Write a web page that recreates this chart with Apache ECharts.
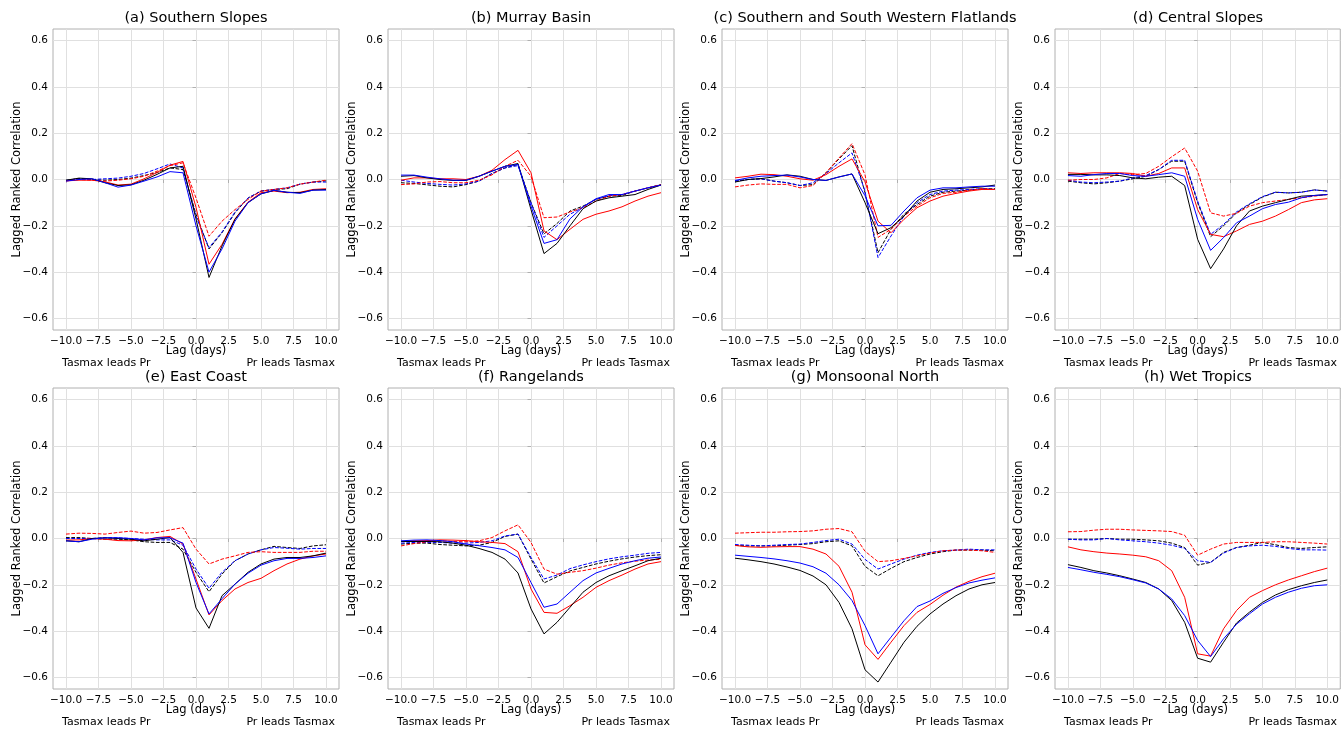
<!DOCTYPE html>
<html>
<head>
<meta charset="utf-8">
<script src="https://cdn.jsdelivr.net/npm/echarts@6/dist/echarts.min.js"></script>
<style>
html,body{margin:0;padding:0;background:#fff;}
#chart{width:1342px;height:730px;}
</style>
</head>
<body>
<div id="chart"></div>
<script>
// ---- data ----
const lags = [-10,-9,-8,-7,-6,-5,-4,-3,-2,-1,0,1,2,3,4,5,6,7,8,9,10];
const xTicks = [-10,-7.5,-5,-2.5,0,2.5,5,7.5,10];
const yTicks = [-0.6,-0.4,-0.2,0,0.2,0.4,0.6];
const titles = ['(a) Southern Slopes','(b) Murray Basin','(c) Southern and South Western Flatlands','(d) Central Slopes',
                '(e) East Coast','(f) Rangelands','(g) Monsoonal North','(h) Wet Tropics'];

// (a)
const aBlack     = [-0.003,0.006,0.003,-0.014,-0.026,-0.023,-0.003,0.022,0.050,0.057,-0.17,-0.423,-0.287,-0.172,-0.10,-0.062,-0.047,-0.055,-0.057,-0.046,-0.043];
const aBlackDash = [-0.004,0.004,0.0,-0.003,0.0,0.006,0.017,0.03,0.05,0.043,-0.15,-0.30,-0.23,-0.144,-0.08,-0.05,-0.043,-0.04,-0.02,-0.011,-0.006];
const aBlue      = [-0.007,0.0,0.003,-0.014,-0.033,-0.024,-0.007,0.011,0.034,0.029,-0.20,-0.40,-0.30,-0.18,-0.10,-0.062,-0.047,-0.055,-0.06,-0.046,-0.046];
const aBlueDash  = [-0.004,0.003,0.0,0.003,0.006,0.014,0.026,0.046,0.067,0.05,-0.16,-0.294,-0.227,-0.14,-0.08,-0.05,-0.043,-0.036,-0.02,-0.011,-0.011];
const aRed       = [-0.006,-0.003,-0.003,-0.01,-0.024,-0.02,0.003,0.03,0.062,0.078,-0.12,-0.366,-0.28,-0.17,-0.098,-0.057,-0.05,-0.057,-0.055,-0.043,-0.04];
const aRedDash   = [-0.006,0.0,-0.003,-0.007,-0.003,0.003,0.014,0.036,0.06,0.072,-0.08,-0.245,-0.18,-0.13,-0.086,-0.05,-0.043,-0.036,-0.02,-0.011,-0.003];
// (b)
const bBlack     = [0.014,0.017,0.007,0.0,-0.004,-0.004,0.014,0.036,0.057,0.069,-0.13,-0.32,-0.276,-0.20,-0.126,-0.093,-0.079,-0.072,-0.065,-0.043,-0.024];
const bBlackDash = [-0.014,-0.017,-0.023,-0.029,-0.032,-0.022,-0.007,0.026,0.05,0.065,-0.1,-0.235,-0.19,-0.136,-0.115,-0.086,-0.072,-0.069,-0.05,-0.036,-0.022];
const bBlue      = [0.019,0.019,0.01,0.003,-0.003,-0.003,0.014,0.036,0.057,0.065,-0.115,-0.276,-0.26,-0.17,-0.118,-0.083,-0.065,-0.065,-0.05,-0.036,-0.024];
const bBlueDash  = [-0.003,-0.011,-0.017,-0.021,-0.024,-0.019,-0.007,0.026,0.05,0.06,-0.1,-0.25,-0.2,-0.15,-0.12,-0.085,-0.07,-0.065,-0.05,-0.036,-0.024];
const bRed       = [-0.003,0.007,0.007,0.003,0.003,0.0,0.014,0.04,0.086,0.126,0.029,-0.222,-0.26,-0.215,-0.172,-0.15,-0.136,-0.118,-0.093,-0.072,-0.057];
const bRedDash   = [-0.022,-0.019,-0.011,-0.009,-0.014,-0.014,-0.003,0.02,0.057,0.083,0.014,-0.165,-0.162,-0.14,-0.122,-0.093,-0.072,-0.065,-0.05,-0.036,-0.022];
// (c)
const cBlack     = [-0.011,0.0,0.004,0.011,0.02,0.014,0.0,-0.004,0.011,0.024,-0.1,-0.234,-0.208,-0.158,-0.093,-0.055,-0.043,-0.04,-0.036,-0.032,-0.024];
const cBlackDash = [-0.007,0.0,0.003,-0.007,-0.014,-0.026,-0.022,0.029,0.089,0.146,-0.057,-0.316,-0.215,-0.15,-0.108,-0.072,-0.055,-0.05,-0.046,-0.04,-0.04];
const cBlue      = [-0.004,0.007,0.014,0.017,0.019,0.011,0.0,-0.004,0.011,0.024,-0.07,-0.2,-0.198,-0.136,-0.079,-0.046,-0.036,-0.036,-0.032,-0.029,-0.029];
const cBlueDash  = [-0.007,0.0,0.003,-0.007,-0.014,-0.026,-0.014,0.026,0.072,0.115,-0.05,-0.337,-0.244,-0.158,-0.1,-0.065,-0.05,-0.046,-0.043,-0.04,-0.043];
const cRed       = [0.007,0.014,0.023,0.021,0.014,0.003,-0.003,0.021,0.057,0.089,-0.01,-0.18,-0.23,-0.172,-0.122,-0.093,-0.072,-0.06,-0.05,-0.043,-0.043];
const cRedDash   = [-0.032,-0.024,-0.019,-0.021,-0.021,-0.036,-0.026,0.029,0.093,0.155,0.02,-0.25,-0.215,-0.158,-0.115,-0.079,-0.06,-0.055,-0.046,-0.04,-0.043];
// (d)
const dBlack     = [0.022,0.022,0.02,0.02,0.017,0.007,0.003,0.01,0.014,-0.026,-0.258,-0.385,-0.3,-0.2,-0.136,-0.115,-0.1,-0.086,-0.072,-0.069,-0.065];
const dBlackDash = [-0.007,-0.014,-0.019,-0.014,-0.007,0.003,0.014,0.043,0.079,0.079,-0.1,-0.247,-0.2,-0.144,-0.108,-0.076,-0.055,-0.058,-0.055,-0.045,-0.05];
const dBlue      = [0.017,0.014,0.021,0.026,0.026,0.017,0.014,0.021,0.029,0.014,-0.172,-0.306,-0.251,-0.187,-0.158,-0.126,-0.108,-0.098,-0.079,-0.069,-0.065];
const dBlueDash  = [-0.003,-0.011,-0.014,-0.011,-0.007,0.007,0.017,0.043,0.083,0.083,-0.093,-0.237,-0.194,-0.14,-0.105,-0.074,-0.055,-0.058,-0.055,-0.045,-0.05];
const dRed       = [0.029,0.026,0.029,0.029,0.029,0.026,0.014,0.026,0.05,0.05,-0.13,-0.237,-0.247,-0.222,-0.194,-0.18,-0.158,-0.13,-0.1,-0.088,-0.083];
const dRedDash   = [-0.003,0.0,0.0,0.007,0.026,0.021,0.026,0.057,0.098,0.136,0.036,-0.144,-0.158,-0.146,-0.115,-0.1,-0.093,-0.086,-0.079,-0.072,-0.065];
// (e)
const eBlack     = [-0.01,-0.014,0.0,0.003,0.0,-0.003,-0.01,-0.003,0.004,-0.06,-0.30,-0.388,-0.247,-0.197,-0.146,-0.11,-0.089,-0.082,-0.082,-0.075,-0.063];
const eBlackDash = [0.004,0.004,0.0,-0.003,-0.003,-0.006,-0.014,-0.017,-0.017,-0.046,-0.146,-0.23,-0.154,-0.096,-0.067,-0.049,-0.034,-0.039,-0.043,-0.032,-0.027];
const eBlue      = [-0.01,-0.014,-0.003,0.003,0.003,0.0,-0.006,0.003,0.003,-0.02,-0.19,-0.326,-0.26,-0.197,-0.15,-0.115,-0.096,-0.086,-0.086,-0.082,-0.075];
const eBlueDash  = [0.0,0.0,0.0,0.004,0.003,0.0,-0.003,-0.006,-0.006,-0.029,-0.132,-0.215,-0.146,-0.096,-0.067,-0.049,-0.039,-0.042,-0.046,-0.043,-0.043];
const eRed       = [-0.007,-0.006,0.0,-0.003,-0.009,-0.01,-0.006,0.004,0.009,-0.024,-0.175,-0.33,-0.268,-0.218,-0.19,-0.172,-0.139,-0.11,-0.089,-0.075,-0.067];
const eRedDash   = [0.019,0.023,0.022,0.019,0.026,0.032,0.023,0.026,0.037,0.047,-0.046,-0.11,-0.089,-0.075,-0.06,-0.057,-0.06,-0.06,-0.06,-0.055,-0.055];
// (f)
const fBlack     = [-0.013,-0.013,-0.013,-0.014,-0.02,-0.029,-0.043,-0.06,-0.089,-0.149,-0.304,-0.412,-0.362,-0.297,-0.232,-0.19,-0.161,-0.139,-0.118,-0.096,-0.085];
const fBlackDash = [-0.024,-0.02,-0.02,-0.026,-0.029,-0.032,-0.029,-0.017,0.009,0.019,-0.089,-0.192,-0.165,-0.14,-0.125,-0.11,-0.098,-0.088,-0.08,-0.074,-0.07];
const fBlue      = [-0.01,-0.007,-0.006,-0.009,-0.014,-0.024,-0.031,-0.039,-0.049,-0.082,-0.19,-0.297,-0.283,-0.232,-0.182,-0.149,-0.129,-0.11,-0.096,-0.085,-0.08];
const fBlueDash  = [-0.02,-0.017,-0.017,-0.017,-0.02,-0.02,-0.017,-0.01,0.011,0.019,-0.082,-0.175,-0.158,-0.13,-0.114,-0.1,-0.088,-0.079,-0.072,-0.064,-0.06];
const fRed       = [-0.013,-0.01,-0.009,-0.006,-0.007,-0.009,-0.014,-0.017,-0.022,-0.057,-0.218,-0.319,-0.323,-0.29,-0.254,-0.211,-0.182,-0.158,-0.132,-0.11,-0.1];
const fRedDash   = [-0.032,-0.022,-0.014,-0.01,-0.013,-0.014,-0.01,0.004,0.033,0.059,-0.017,-0.132,-0.154,-0.146,-0.139,-0.128,-0.115,-0.105,-0.098,-0.093,-0.09];
// (g)
const gBlack     = [-0.085,-0.092,-0.1,-0.11,-0.123,-0.138,-0.162,-0.2,-0.276,-0.39,-0.567,-0.62,-0.534,-0.448,-0.379,-0.326,-0.283,-0.247,-0.218,-0.2,-0.19];
const gBlackDash = [-0.03,-0.032,-0.032,-0.032,-0.029,-0.026,-0.022,-0.014,-0.01,-0.032,-0.12,-0.161,-0.129,-0.1,-0.082,-0.067,-0.057,-0.05,-0.05,-0.05,-0.053];
const gBlue      = [-0.072,-0.077,-0.082,-0.088,-0.096,-0.106,-0.122,-0.15,-0.2,-0.268,-0.376,-0.498,-0.426,-0.355,-0.294,-0.27,-0.237,-0.212,-0.192,-0.18,-0.17];
const gBlueDash  = [-0.026,-0.029,-0.032,-0.029,-0.026,-0.024,-0.017,-0.009,-0.003,-0.024,-0.09,-0.132,-0.11,-0.089,-0.072,-0.06,-0.053,-0.05,-0.046,-0.049,-0.049];
const gRed       = [-0.03,-0.036,-0.038,-0.036,-0.035,-0.035,-0.046,-0.067,-0.12,-0.232,-0.459,-0.522,-0.448,-0.376,-0.319,-0.285,-0.245,-0.21,-0.185,-0.165,-0.15];
const gRedDash   = [0.023,0.025,0.027,0.027,0.029,0.03,0.033,0.04,0.043,0.029,-0.055,-0.1,-0.096,-0.086,-0.075,-0.063,-0.053,-0.05,-0.05,-0.053,-0.06];
// (h)
const hBlack     = [-0.113,-0.125,-0.139,-0.149,-0.161,-0.175,-0.19,-0.218,-0.268,-0.362,-0.517,-0.534,-0.448,-0.365,-0.318,-0.276,-0.244,-0.221,-0.204,-0.19,-0.179];
const hBlackDash = [-0.003,-0.003,-0.003,0.0,-0.003,-0.003,-0.006,-0.01,-0.02,-0.039,-0.115,-0.103,-0.06,-0.039,-0.029,-0.017,-0.027,-0.039,-0.043,-0.039,-0.036];
const hBlue      = [-0.125,-0.135,-0.146,-0.155,-0.165,-0.178,-0.192,-0.218,-0.261,-0.333,-0.44,-0.51,-0.433,-0.37,-0.325,-0.283,-0.254,-0.232,-0.215,-0.204,-0.2];
const hBlueDash  = [-0.003,-0.006,-0.006,0.0,-0.006,-0.01,-0.014,-0.02,-0.029,-0.043,-0.096,-0.103,-0.063,-0.039,-0.032,-0.029,-0.034,-0.043,-0.049,-0.049,-0.05];
const hRed       = [-0.036,-0.049,-0.057,-0.063,-0.067,-0.072,-0.079,-0.096,-0.139,-0.254,-0.498,-0.508,-0.39,-0.311,-0.254,-0.225,-0.2,-0.179,-0.161,-0.143,-0.128];
const hRedDash   = [0.029,0.03,0.036,0.04,0.04,0.037,0.035,0.033,0.03,0.014,-0.072,-0.046,-0.024,-0.017,-0.017,-0.017,-0.014,-0.014,-0.017,-0.02,-0.024];

const panelData = [
  [aBlack,aBlackDash,aBlue,aBlueDash,aRed,aRedDash],
  [bBlack,bBlackDash,bBlue,bBlueDash,bRed,bRedDash],
  [cBlack,cBlackDash,cBlue,cBlueDash,cRed,cRedDash],
  [dBlack,dBlackDash,dBlue,dBlueDash,dRed,dRedDash],
  [eBlack,eBlackDash,eBlue,eBlueDash,eRed,eRedDash],
  [fBlack,fBlackDash,fBlue,fBlueDash,fRed,fRedDash],
  [gBlack,gBlackDash,gBlue,gBlueDash,gRed,gRedDash],
  [hBlack,hBlackDash,hBlue,hBlueDash,hRed,hRedDash]
];

// ---- layout / style ----
const FONT = 'DejaVu Sans';
const colLeft = [53, 388, 722, 1055];
const rowTop = [29, 388];
const W = 286, H = 301;
const fmt = v => { const s = Math.abs(v).toFixed(1); return (v < -1e-9 ? '\u2212' : '') + s; };
// series: [dataIndex, color, dashed]
const seriesSpec = [
  [1, '#000000', true],
  [3, '#0000ff', true],
  [5, '#ff0000', true],
  [4, '#ff0000', false],
  [0, '#000000', false],
  [2, '#0000ff', false]
];

const grids = [], xAxes = [], yAxes = [], series = [], graphics = [];
for (let p = 0; p < 8; p++) {
  const r = Math.floor(p / 4), c = p % 4;
  const left = colLeft[c], top = rowTop[r];
  grids.push({left: left, top: top, width: W, height: H, show: true,
    borderColor: '#b0b0b0', borderWidth: 1, backgroundColor: 'transparent', containLabel: false});
  xAxes.push({type: 'value', gridIndex: p, min: -11, max: 11,
    name: 'Lag (days)', nameLocation: 'middle', nameGap: 15, nameMoveOverlap: false,
    nameTextStyle: {fontFamily: FONT, fontSize: 11.5, color: '#000', verticalAlign: 'top'},
    axisLine: {show: false},
    axisTick: {show: true, length: 3.5, customValues: xTicks, lineStyle: {color: '#b0b0b0'}},
    axisLabel: {customValues: xTicks, formatter: fmt, margin: 6, fontFamily: FONT, fontSize: 10.5, color: '#000'},
    splitLine: {show: true, lineStyle: {color: '#e0e0e0', width: 1}}
  });
  yAxes.push({type: 'value', gridIndex: p, min: -0.65, max: 0.65,
    name: 'Lagged Ranked Correlation', nameLocation: 'middle', nameGap: 30, nameRotate: 90, nameMoveOverlap: false,
    nameTextStyle: {fontFamily: FONT, fontSize: 11.5, color: '#000'},
    axisLine: {show: false},
    axisTick: {show: true, length: 3.5, customValues: yTicks, lineStyle: {color: '#b0b0b0'}},
    axisLabel: {customValues: yTicks, formatter: fmt, margin: 5, fontFamily: FONT, fontSize: 10.5, color: '#000'},
    splitLine: {show: true, lineStyle: {color: '#e0e0e0', width: 1}}
  });
  seriesSpec.forEach(([di, col, dashed]) => {
    series.push({type: 'line', xAxisIndex: p, yAxisIndex: p, showSymbol: false, symbol: 'none',
      silent: true, animation: false,
      data: lags.map((x, i) => [x, panelData[p][di][i]]),
      lineStyle: {color: col, width: 1, type: dashed ? [3.7, 1.6] : 'solid'}
    });
  });
  graphics.push({type: 'text', x: left + W / 2, y: top - 11, style: {text: titles[p],
    font: '14.5px "DejaVu Sans"', fill: '#000', textAlign: 'center', textVerticalAlign: 'middle'}});
  graphics.push({type: 'text', x: left + 9, y: top + H + 33, style: {text: 'Tasmax leads Pr',
    font: '11px "DejaVu Sans"', fill: '#000', textAlign: 'left', textVerticalAlign: 'middle'}});
  graphics.push({type: 'text', x: left + W - 4, y: top + H + 33, style: {text: 'Pr leads Tasmax',
    font: '11px "DejaVu Sans"', fill: '#000', textAlign: 'right', textVerticalAlign: 'middle'}});
}

const chart = echarts.init(document.getElementById('chart'), null, {renderer: 'canvas'});
chart.setOption({
  animation: false,
  backgroundColor: '#ffffff',
  textStyle: {fontFamily: FONT},
  grid: grids, xAxis: xAxes, yAxis: yAxes, series: series,
  graphic: graphics
});
</script>
</body>
</html>
